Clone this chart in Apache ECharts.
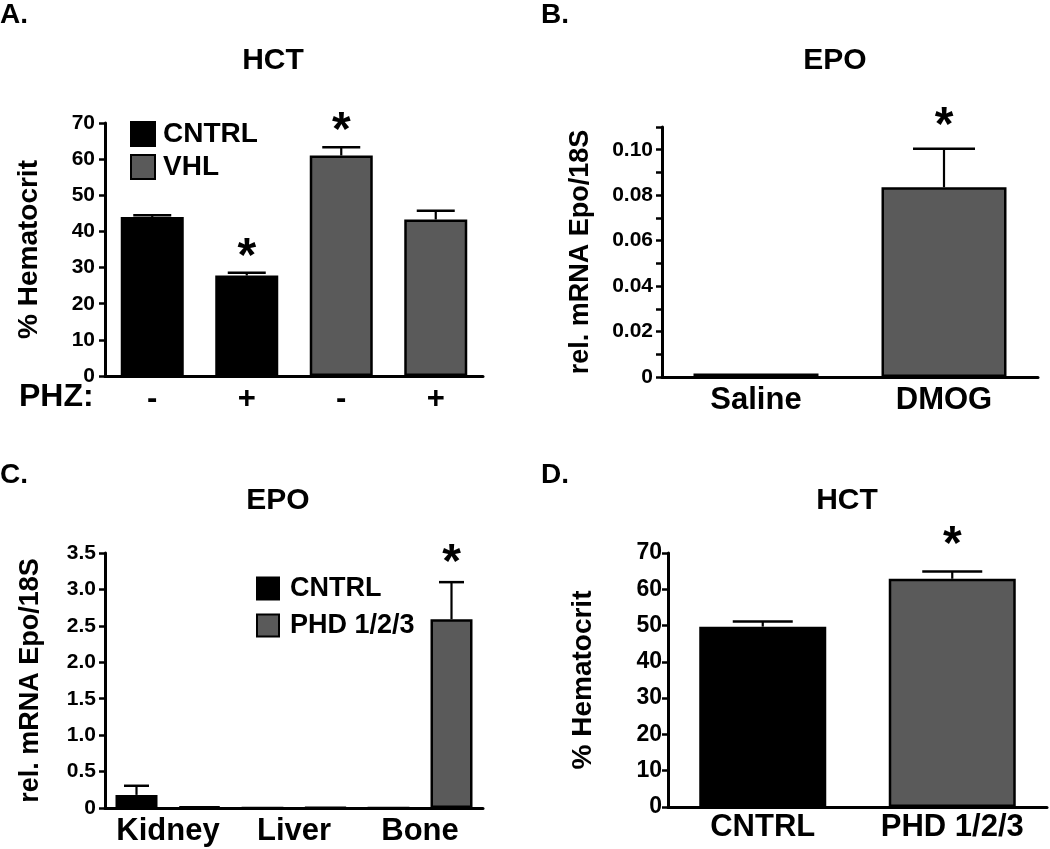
<!DOCTYPE html>
<html><head><meta charset="utf-8">
<script src="https://cdn.jsdelivr.net/npm/echarts@6/dist/echarts.min.js"></script>
<style>html,body{margin:0;padding:0;background:#fff}#c{width:1050px;height:849px}</style>
</head><body><div id="c"></div>
<script>
// ---------- Panel A: HCT ----------
const aCategories = ['-', '+', '-', '+'];
const aCntrl = [44.0, 27.8, null, null];
const aVhl = [null, null, 61.0, 43.3];
const aErrTop = [44.5, 28.6, 63.3, 45.7];
const aSig = [false, true, true, false];

// ---------- Panel B: EPO ----------
const bCategories = ['Saline', 'DMOG'];
const bValues = [0.0015, 0.0835];
const bErrTop = [null, 0.1004];
const bSig = [false, true];

// ---------- Panel C: EPO ----------
const cCategories = ['Kidney', 'Liver', 'Bone'];
const cCntrl = [0.18, 0.003, 0.002];
const cPhd = [0.02, 0.01, 2.59];
const cCntrlErrTop = [0.305, null, null];
const cPhdErrTop = [null, null, 3.10];
const cCntrlSig = [false, false, false];
const cPhdSig = [false, false, true];

// ---------- Panel D: HCT ----------
const dCategories = ['CNTRL', 'PHD 1/2/3'];
const dValues = [49.7, 62.9];
const dErrTop = [51.1, 64.9];
const dSig = [false, true];

const FONT = "'Liberation Sans', Arial, Helvetica, sans-serif";
const BLACK = '#000000';
const GRAY = '#5a5a5a';
const twoColors = [BLACK, GRAY];

const chart = echarts.init(document.getElementById('c'));

function txt(size) { return { fontSize: size, fontWeight: 'bold', color: '#000', fontFamily: FONT }; }

function xAxisCfg(grid, cats, margin) {
  return {
    type: 'category', gridIndex: grid, data: cats,
    axisLine: { show: true, lineStyle: { color: '#000', width: 3 } },
    axisTick: { show: false },
    axisLabel: Object.assign({ interval: 0, margin: margin }, txt(31)),
    splitLine: { show: false }
  };
}
function yAxisCfg(grid, max, interval, name, nameGap, nameSize, fmt, labelSize, labelMargin) {
  return {
    type: 'value', gridIndex: grid, min: 0, max: max, interval: interval,
    axisLine: { show: true, lineStyle: { color: '#000', width: 3 } },
    axisTick: { show: true, length: 6, lineStyle: { color: '#000', width: 2.5 } },
    axisLabel: Object.assign({ margin: labelMargin, formatter: fmt }, txt(labelSize)),
    splitLine: { show: false },
    name: name, nameLocation: 'middle', nameRotate: 90, nameGap: nameGap,
    nameTextStyle: txt(nameSize)
  };
}

function errorSeries(axisIdx, tops, bases, sig, offset, capW, starGap) {
  const data = [];
  tops.forEach((t, i) => { if (t != null) data.push([i, t, bases[i], sig[i] ? 1 : 0]); });
  return {
    type: 'custom', xAxisIndex: axisIdx, yAxisIndex: axisIdx, silent: true, z: 5,
    data: data,
    renderItem: function (params, api) {
      const i = api.value(0), hi = api.value(1), lo = api.value(2), s = api.value(3);
      const pHi = api.coord([i, hi]);
      const pLo = api.coord([i, lo]);
      const x = pHi[0] + offset;
      const children = [
        { type: 'line', shape: { x1: x, y1: pLo[1], x2: x, y2: pHi[1] }, style: { stroke: '#000', lineWidth: 2.2 } },
        { type: 'line', shape: { x1: x - capW / 2, y1: pHi[1], x2: x + capW / 2, y2: pHi[1] }, style: { stroke: '#000', lineWidth: 2.5 } }
      ];
      if (s) {
        children.push({ type: 'text', style: { text: '*', x: x, y: pHi[1] - starGap, align: 'center', verticalAlign: 'middle', textAlign: 'center', textVerticalAlign: 'middle', font: 'bold 48px ' + FONT, fill: '#000' } });
      }
      return { type: 'group', children: children };
    }
  };
}

const barBorder = { borderColor: '#000', borderWidth: 2.5 };

const option = {
  animation: false,
  backgroundColor: '#fff',
  title: [
    { text: 'A.', left: 0, top: 1, padding: 0, textStyle: txt(28) },
    { text: 'B.', left: 541, top: 1, padding: 0, textStyle: txt(28) },
    { text: 'C.', left: 0, top: 461, padding: 0, textStyle: txt(28) },
    { text: 'D.', left: 541, top: 461, padding: 0, textStyle: txt(28) },
    { text: 'HCT', left: 273, textAlign: 'center', top: 46, padding: 0, textStyle: txt(30) },
    { text: 'EPO', left: 835, textAlign: 'center', top: 46, padding: 0, textStyle: txt(30) },
    { text: 'EPO', left: 278, textAlign: 'center', top: 486, padding: 0, textStyle: txt(30) },
    { text: 'HCT', left: 847, textAlign: 'center', top: 486, padding: 0, textStyle: txt(30) },
    { text: 'PHZ:', left: 19, top: 381, padding: 0, textStyle: txt(32) }
  ],
  legend: [
    { data: ['CNTRL', 'VHL'], left: 130, top: 120, padding: 0, orient: 'vertical', icon: 'rect',
      itemWidth: 24, itemHeight: 24, itemGap: 5,
      textStyle: Object.assign({ lineHeight: 24, padding: [0, 0, 0, 3] }, txt(28)) },
    { data: ['CNTRL ', 'PHD 1/2/3'], left: 256, top: 575, padding: 0, orient: 'vertical', icon: 'rect',
      itemWidth: 22, itemHeight: 22, itemGap: 10,
      formatter: n => n.trim(),
      textStyle: Object.assign({ lineHeight: 22, padding: [0, 0, 0, 6] }, txt(27)) }
  ],
  grid: [
    { left: 105, top: 123, width: 378, height: 253 },
    { left: 662, top: 127, width: 376, height: 250 },
    { left: 105, top: 553, width: 378, height: 255 },
    { left: 668, top: 553, width: 379, height: 254 }
  ],
  xAxis: [
    xAxisCfg(0, aCategories, 8),
    xAxisCfg(1, bCategories, 8),
    xAxisCfg(2, cCategories, 8),
    xAxisCfg(3, dCategories, 5)
  ],
  yAxis: [
    yAxisCfg(0, 70, 10, '% Hematocrit', 62, 28, v => String(v), 21, 10),
    yAxisCfg(1, 0.11, 0.01, 'rel. mRNA Epo/18S', 68, 27,
      v => { const k = Math.round(v * 100); return k === 0 ? '0' : (k % 2 === 0 ? (k / 100).toFixed(2) : ''); }, 21, 9),
    yAxisCfg(2, 3.5, 0.5, 'rel. mRNA Epo/18S', 61, 27, v => v === 0 ? '0' : v.toFixed(1), 21, 9),
    yAxisCfg(3, 70, 10, '% Hematocrit', 71, 28, v => String(v), 23, 6)
  ],
  series: [
    // Panel A
    { name: 'CNTRL', type: 'bar', xAxisIndex: 0, yAxisIndex: 0, data: aCntrl, barWidth: 63, barGap: '-100%',
      itemStyle: Object.assign({ color: BLACK }, barBorder) },
    { name: 'VHL', type: 'bar', xAxisIndex: 0, yAxisIndex: 0, data: aVhl, barWidth: 63, barGap: '-100%',
      itemStyle: Object.assign({ color: GRAY }, barBorder) },
    errorSeries(0, aErrTop, aCntrl.map((v, i) => v != null ? v : aVhl[i]), aSig, 0, 38, 15),
    // Panel B
    { name: 'EPO-B', type: 'bar', xAxisIndex: 1, yAxisIndex: 1, data: bValues, barWidth: 125,
      itemStyle: Object.assign({ color: p => twoColors[p.dataIndex] }, barBorder) },
    errorSeries(1, bErrTop, bValues, bSig, 0, 62, 22),
    // Panel C
    { name: 'CNTRL ', type: 'bar', xAxisIndex: 2, yAxisIndex: 2, data: cCntrl, barWidth: 42, barGap: '50%',
      itemStyle: Object.assign({ color: BLACK }, barBorder) },
    { name: 'PHD 1/2/3', type: 'bar', xAxisIndex: 2, yAxisIndex: 2, data: cPhd, barWidth: 42, barGap: '50%',
      itemStyle: Object.assign({ color: GRAY }, barBorder) },
    errorSeries(2, cCntrlErrTop, cCntrl, cCntrlSig, -31.5, 25, 18),
    errorSeries(2, cPhdErrTop, cPhd, cPhdSig, 31.5, 25, 18),
    // Panel D
    { name: 'HCT-D', type: 'bar', xAxisIndex: 3, yAxisIndex: 3, data: dValues, barWidth: 127,
      itemStyle: Object.assign({ color: p => twoColors[p.dataIndex] }, barBorder) },
    errorSeries(3, dErrTop, dValues, dSig, 0, 60, 26)
  ]
};
chart.setOption(option);
</script>
</body></html>
